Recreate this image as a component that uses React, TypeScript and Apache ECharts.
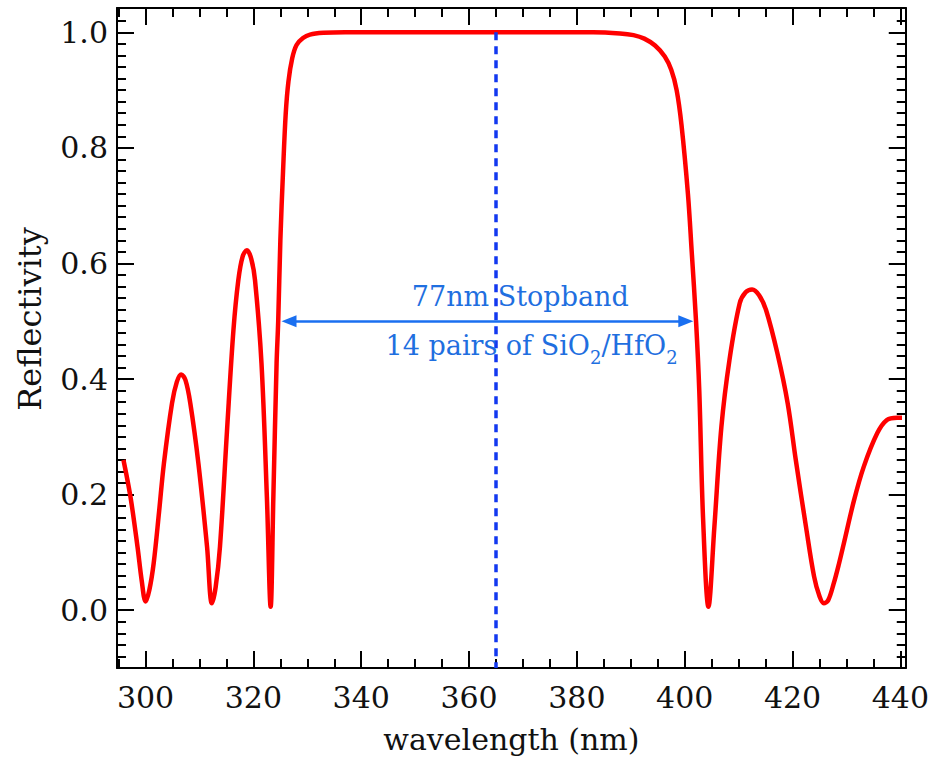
import React, { useEffect, useRef } from "react";
import * as echarts from "echarts";

// ---- data ----
const wavelength = [
  295.9, 297.2, 298.5, 299.3, 300.0, 300.7, 301.5, 302.5, 303.4, 304.9, 305.8, 306.6, 307.4, 308.3,
  309.8, 311.4, 312.3, 313.0, 313.8, 315.1, 316.3, 317.2, 318.0, 318.8, 319.6, 320.3, 321.5, 322.5,
  323.2, 323.7, 324.3, 324.6, 325.0, 325.5, 326.0, 326.5, 327.2, 328.0, 329.2, 330.5, 333.0, 337.0,
  345.0, 355.0, 365.0, 375.0, 383.0, 388.0, 390.5, 392.5, 394.5, 396.3, 397.5, 398.5, 399.4, 400.6,
  401.3, 402.1, 402.7, 403.4, 404.4, 405.5, 406.8, 408.3, 410.2, 411.3, 412.5, 413.8, 415.1, 417.2,
  419.1, 420.6, 422.5, 424.0, 425.0, 425.8, 426.6, 427.6, 428.6, 429.5, 431.4, 433.2, 435.7, 437.5,
  439.4, 440.3,
];
const reflectivity = [
  0.26, 0.196, 0.11, 0.05, 0.015, 0.035, 0.081, 0.17, 0.254, 0.358, 0.395, 0.408, 0.398, 0.358,
  0.254, 0.11, 0.012, 0.04, 0.11, 0.31, 0.485, 0.571, 0.612, 0.623, 0.608, 0.571, 0.427, 0.196,
  0.006, 0.196, 0.427, 0.5, 0.64, 0.76, 0.86, 0.915, 0.955, 0.978, 0.99, 0.996, 0.999, 1.0,
  1.0, 1.0, 1.0, 1.0, 1.0, 0.998, 0.995, 0.989, 0.977, 0.958, 0.935, 0.9, 0.84, 0.72,
  0.62, 0.5, 0.38, 0.16, 0.006, 0.144, 0.317, 0.433, 0.531, 0.55, 0.555, 0.545, 0.519, 0.444,
  0.358, 0.26, 0.144, 0.058, 0.024, 0.012, 0.017, 0.045, 0.08, 0.115, 0.19, 0.248, 0.306, 0.329,
  0.333, 0.333,
];

const xMajorTicks = [300, 320, 340, 360, 380, 400, 420, 440];
const xMinorTicks = [295, 305, 310, 315, 325, 330, 335, 345, 350, 355, 365, 370, 375, 385, 390, 395, 405, 410, 415, 425, 430, 435];
const yMajorTicks = [0, 0.2, 0.4, 0.6, 0.8, 1.0];
const yMinorTicks = [
  -0.08, -0.06, -0.04, -0.02, 0.02, 0.04, 0.06, 0.08, 0.1, 0.12, 0.14, 0.16, 0.18, 0.22, 0.24, 0.26,
  0.28, 0.3, 0.32, 0.34, 0.36, 0.38, 0.42, 0.44, 0.46, 0.48, 0.5, 0.52, 0.54, 0.56, 0.58, 0.62, 0.64,
  0.66, 0.68, 0.7, 0.72, 0.74, 0.76, 0.78, 0.82, 0.84, 0.86, 0.88, 0.9, 0.92, 0.94, 0.96, 0.98, 1.02,
];

// annotation values (arrow symbol centres; tips reach the stopband edges)
const centerWavelength = 365;
const stopbandEdges = [326.6, 400.2];
const stopbandLevel = 0.5;
const label1Pos = [369.5, 0.542];
const label2Pos = [371.6, 0.456];

const X_MIN = 294.7;
const X_MAX = 441.0;
const Y_MIN = -0.1;
const Y_MAX = 1.042;

const FONT = "DejaVu Serif";

export default function App() {
  const ref = useRef<HTMLDivElement>(null);
  useEffect(() => {
    if (!ref.current) return;
    const chart = echarts.init(ref.current, undefined, { renderer: "svg" });
    const axisLine = { show: true, onZero: false, lineStyle: { color: "#000", width: 2 } };
    const mkX = (position: string, major: boolean, labels: boolean) => ({
      type: "value",
      position,
      min: X_MIN,
      max: X_MAX,
      axisLine: major ? axisLine : { show: false, onZero: false },
      splitLine: { show: false },
      axisTick: {
        show: true,
        inside: true,
        length: major ? 17 : 9,
        lineStyle: { color: "#000", width: 2 },
        customValues: major ? xMajorTicks : xMinorTicks,
      },
      axisLabel: labels
        ? { show: true, customValues: xMajorTicks, color: "#111", fontFamily: FONT, fontSize: 30, margin: 14 }
        : { show: false },
      ...(labels
        ? {
            name: "wavelength (nm)",
            nameLocation: "middle",
            nameGap: 56,
            nameTextStyle: { color: "#111", fontFamily: FONT, fontSize: 30 },
          }
        : {}),
    });
    const mkY = (position: string, major: boolean, labels: boolean) => ({
      type: "value",
      position,
      min: Y_MIN,
      max: Y_MAX,
      axisLine: major ? axisLine : { show: false, onZero: false },
      splitLine: { show: false },
      axisTick: {
        show: true,
        inside: true,
        length: major ? 17 : 9,
        lineStyle: { color: "#000", width: 2 },
        customValues: major ? yMajorTicks : yMinorTicks,
      },
      axisLabel: labels
        ? {
            show: true,
            customValues: yMajorTicks,
            color: "#111",
            fontFamily: FONT,
            fontSize: 30,
            margin: 9,
            formatter: (v: number) => v.toFixed(1),
          }
        : { show: false },
      ...(labels
        ? {
            name: "Reflectivity",
            nameLocation: "middle",
            nameGap: 71,
            nameTextStyle: { color: "#111", fontFamily: FONT, fontSize: 32, padding: [0, 0, 0, 38] },
          }
        : {}),
    });

    const textColor = "#1f6fe0";
    chart.setOption({
      animation: false,
      backgroundColor: "#fff",
      grid: { left: 117, right: 25, top: 8, bottom: 94 },
      xAxis: [mkX("bottom", true, true), mkX("bottom", false, false), mkX("top", true, false), mkX("top", false, false)],
      yAxis: [mkY("left", true, true), mkY("left", false, false), mkY("right", true, false), mkY("right", false, false)],
      series: [
        {
          type: "line",
          xAxisIndex: 0,
          yAxisIndex: 0,
          data: wavelength.map((w, i) => [w, reflectivity[i]]),
          showSymbol: false,
          smooth: 0.35,
          lineStyle: { color: "#ff0000", width: 4.5 },
          z: 3,
          markLine: {
            silent: true,
            animation: false,
            data: [
              [
                {
                  coord: [centerWavelength, 1.0],
                  symbol: "none",
                  lineStyle: { color: "#1238f0", width: 3.5, type: [8, 6] },
                  label: { show: false },
                },
                { coord: [centerWavelength, Y_MIN], symbol: "none" },
              ],
              [
                {
                  coord: [stopbandEdges[0], stopbandLevel],
                  symbol: "triangle",
                  symbolSize: [12, 15],
                  lineStyle: { color: "#1a6ff0", width: 2.5, type: "solid" },
                  label: { show: false },
                },
                { coord: [stopbandEdges[1], stopbandLevel], symbol: "triangle", symbolSize: [12, 15] },
              ],
            ],
          },
          markPoint: {
            silent: true,
            animation: false,
            symbol: "circle",
            symbolSize: 0,
            data: [
              {
                coord: label1Pos,
                label: {
                  show: true,
                  position: "inside",
                  formatter: "77nm Stopband",
                  color: textColor,
                  fontFamily: FONT,
                  fontSize: 27,
                },
              },
              {
                coord: label2Pos,
                label: {
                  show: true,
                  position: "inside",
                  formatter: "{m|14 pairs of SiO}{s|2}{m|/HfO}{s|2}",
                  rich: {
                    m: { color: textColor, fontFamily: FONT, fontSize: 27, lineHeight: 30, verticalAlign: "top" },
                    s: {
                      color: textColor,
                      fontFamily: FONT,
                      fontSize: 18,
                      lineHeight: 18,
                      padding: [17, 0, 0, 0],
                      verticalAlign: "top",
                    },
                  },
                },
              },
            ],
          },
        },
      ],
    });
    return () => chart.dispose();
  }, []);
  return <div ref={ref} style={{ position: "fixed", left: 0, top: 0, width: 932, height: 762, background: "#fff" }} />;
}
